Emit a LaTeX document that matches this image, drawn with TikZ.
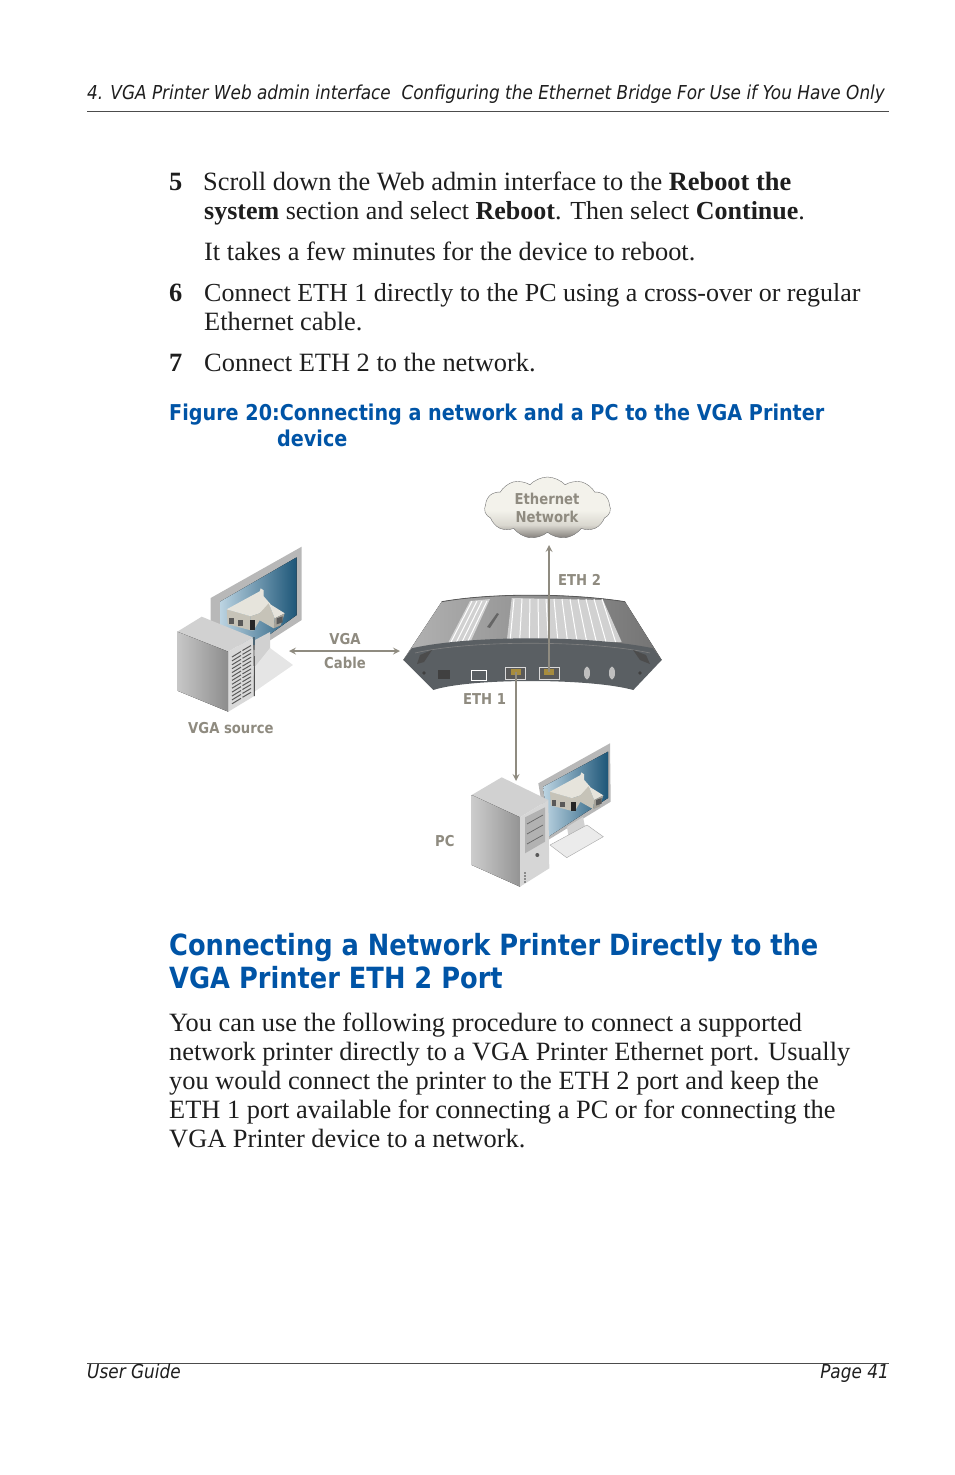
\documentclass[tikz,border=0pt]{standalone}
\usepackage{fontspec}
\setmainfont{Liberation Serif}
\newfontfamily\headfont[FakeStretch=0.88]{DejaVu Sans}
\usetikzlibrary{arrows, shapes, shapes.symbols, positioning}
\definecolor{capblue}{HTML}{0054A6}
\definecolor{cablegray}{HTML}{8F8B80}
\definecolor{bandgray}{HTML}{5A5F63}
\definecolor{screendark}{HTML}{1D5678}
\definecolor{screenlight}{HTML}{BCD4E2}
\definecolor{inktext}{HTML}{1E1E1E}
\definecolor{cloudtop}{HTML}{F3F2EB}
\definecolor{cloudmid}{HTML}{DAD8D0}
\definecolor{cloudfoot}{HTML}{807C78}
\definecolor{roofpale}{HTML}{E6E4DC}
\definecolor{wallpale}{HTML}{C6C3B8}
\definecolor{wallshade}{HTML}{A5A299}
\pgfdeclareverticalshading{cloudshade}{100bp}{color(0bp)=(cloudfoot); color(25bp)=(cloudfoot); color(36bp)=(cloudmid); color(48bp)=(cloudtop); color(100bp)=(cloudtop)}
\tikzset{
  bodyline/.style={anchor=base west, inner sep=0, text=inktext, font=\fontsize{26.4}{30}\selectfont},
  tightline/.style={anchor=base west, inner sep=0, text=inktext, font=\fontsize{26}{30}\selectfont},
  runline/.style={anchor=base west, inner sep=0, text=inktext, font=\headfont\itshape\fontsize{19.2}{24}\selectfont},
  capline/.style={anchor=base west, inner sep=0, text=capblue, font=\headfont\bfseries\fontsize{21.8}{26}\selectfont},
  headline/.style={anchor=base west, inner sep=0, text=capblue, font=\headfont\bfseries\fontsize{29.2}{34}\selectfont},
  cablelabel/.style={anchor=base west, inner sep=0, text=cablegray, font=\headfont\bfseries\fontsize{15}{18}\selectfont},
  cableline/.style={draw=cablegray, line width=2pt, >=stealth},
  rulerline/.style={draw=black!70, line width=0.7pt}
}
\newcommand{\drawhouse}[3]{
\begin{scope}[shift={(#1,#2)}, scale=#3]
\fill[wallpale] (0,0) -- (24,7) -- (24,21) -- (1,15) -- cycle;
\fill[roofpale] (0,0) -- (33,-18) -- (34,-21) -- (37,-19) -- (37,-13) -- (44,-5) -- (33,4) -- (24,7) -- cycle;
\fill[wallpale] (24,7) -- (33,4) -- (42,-6) -- (48,9) -- (47,19) -- (33,11) -- (27,21) -- (24,21) -- cycle;
\fill[roofpale] (42,-6) -- (58,4) -- (48,9) -- cycle;
\fill[wallshade] (48,9) -- (58,4) -- (54,16) -- (47,19) -- cycle;
\fill[black!65] (2,9) rectangle (7,15);
\fill[black!65] (11,11) rectangle (16,17);
\fill[black!85] (23,11) rectangle (28,21);
\fill[black!65] (50,9) -- (56,7) -- (56,13) -- (50,15) -- cycle;
\end{scope}
}
\begin{document}
\begin{tikzpicture}[x=1pt, y=-1pt]
\useasboundingbox (0,0) rectangle (954,1475);

% page head and foot
\node[runline] (running) at (87,99) {4. VGA Printer Web admin interface\ \ Configuring the Ethernet Bridge For Use if You Have Only};
\coordinate (headl) at (87,111);
\coordinate (headr) at (889,111);
\draw[rulerline] (headl) -- (headr);
\coordinate (footl) at (87,1363);
\coordinate (footr) at (889,1363);
\draw[rulerline] (footl) -- (footr);
\node[runline] (guide) at (87,1378) {User Guide};
\node[runline, anchor=base east] (pagenum) at (889,1378) {Page 41};

% steps
\node[bodyline] (numfive) at (169,190) {\textbf{5}};
\node[bodyline] (stepa) at (203,190) {Scroll down the Web admin interface to the \textbf{Reboot the}};
\node[tightline] (stepb) at (204,219) {\textbf{system} section and select \textbf{Reboot}. Then select \textbf{Continue}.};
\node[bodyline] (stepc) at (204,260) {It takes a few minutes for the device to reboot.};
\node[bodyline] (numsix) at (169,301) {\textbf{6}};
\node[tightline] (stepd) at (204,301) {Connect ETH 1 directly to the PC using a cross-over or regular};
\node[bodyline] (stepe) at (204,330) {Ethernet cable.};
\node[bodyline] (numseven) at (169,371) {\textbf{7}};
\node[bodyline] (stepf) at (204,371) {Connect ETH 2 to the network.};

% caption
\node[capline] (capa) at (169,420) {Figure 20:Connecting a network and a PC to the VGA Printer};
\node[capline] (capb) at (277,446) {device};

% VGA source monitor
\fill[white!72!black] (210.7,598) -- (301.7,546.7) -- (301.7,620) -- (255,650) -- (210.7,640) -- cycle;
\fill[left color=screenlight, right color=screendark] (220,601.7) -- (296.7,557.3) -- (296.7,615) -- (255,645) -- (220,640) -- cycle;
\fill[white!82!black] (255,640) -- (270,632) -- (270,660) -- (255,670) -- cycle;
\fill[white!90!black] (270,648) -- (293,665) -- (254,692) -- (254,668) -- cycle;
\drawhouse{226.7}{609.3}{1}

% VGA source tower
\fill[white!82!black] (177.3,631.7) -- (201.7,616.7) -- (252.7,637.3) -- (228.3,651.7) -- cycle;
\fill[left color=white!78!black, right color=white!55!black] (177.3,631.7) -- (228.3,651.7) -- (228.3,711.7) -- (177.3,690.7) -- cycle;
\fill[white!85!black] (228.3,651.7) -- (252.7,637.3) -- (254.3,696) -- (228.3,711.7) -- cycle;
\foreach \i in {0,...,12}
  \draw[black!65, line width=1pt] (232,{657+\i*3.9}) -- (241,{651.5+\i*3.9}) (242.5,{650.5+\i*3.9}) -- (251,{645.5+\i*3.9});
\draw[black, line width=0.8pt] (254,637) -- (254.3,696);

% PC monitor
\fill[white!72!black] (538.3,783.3) -- (610,743.3) -- (610.7,801.7) -- (548,840) -- cycle;
\fill[left color=screenlight, right color=screendark] (543.3,786.7) -- (608,751.7) -- (608,798) -- (548.3,836.7) -- cycle;
\fill[white!82!black] (567,827) -- (583,817) -- (586,832) -- (570,846) -- cycle;
\draw[black!35, line width=0.4pt, fill=white!92!black] (550,845) -- (587,825) -- (603.3,836.7) -- (566.7,857.7) -- cycle;
\drawhouse{550}{791.7}{0.92}

% PC tower
\fill[white!82!black] (471.7,795) -- (501.7,777.3) -- (548.3,800) -- (520,817.3) -- cycle;
\fill[left color=white!80!black, right color=white!58!black] (471.7,795) -- (520,817.3) -- (520,886.7) -- (471.7,865) -- cycle;
\fill[white!84!black] (520,817.3) -- (548.3,800) -- (549.3,868.3) -- (520,886.7) -- cycle;
\fill[white!70!black] (525,817.3) -- (545,807.3) -- (545,841.7) -- (525,853.3) -- cycle;
\foreach \i in {0,1,2}
  \draw[black!60, line width=0.7pt] (527,{824+\i*10}) -- (543,{815+\i*10});
\fill[white!35!black] (537.3,855) circle (2pt);
\foreach \i in {0,1,2,3}
  \fill[black!75] (525,{873+\i*3}) circle (0.8pt);

% router
\fill[left color=white!70!black, right color=white!45!black] (441.7,601.7) .. controls (490,593) and (570,593) .. (625,601.7) -- (661.7,660) -- (403.3,660) -- cycle;
\draw[black!65, line width=0.8pt] (441.7,601.7) .. controls (490,593) and (570,593) .. (625,601.7);
\fill[white!82!black] (470,601) -- (490,599) -- (470,643) -- (447,645) -- cycle;
\fill[white!82!black] (511.7,598) -- (603,600) -- (621.7,642) -- (506.7,641.7) -- cycle;
\foreach \i in {0,1,2,3}
  \draw[white, line width=1pt] ({472+\i*5},601) -- ({450+\i*5.5},644);
\foreach \i in {0,...,11}
  \draw[white, line width=1pt] ({514+\i*8},599) -- ({510+\i*9.6},642);
\fill[black!60] (487,627) -- (497,613) -- (499,614) -- (490,628) -- cycle;
\fill[bandgray] (411.7,648.3) .. controls (470,635) and (590,635) .. (653,648.3) -- (661.7,660) -- (633.3,690) .. controls (590,678) and (470,678) .. (433.3,690) -- (403.3,660) -- cycle;
\draw[black!50, line width=0.6pt] (415,653) .. controls (470,640) and (590,640) .. (650,653);
\fill[white!30!black] (420,655) -- (432,650) -- (424,662) -- (417,664) -- cycle;
\fill[white!30!black] (633,650) -- (646,655) -- (650,664) -- (640,660) -- cycle;
\fill[black!75] (424,673) circle (1.8pt);
\fill[black!75] (640,673) circle (1.8pt);
\fill[black!75] (438,670) rectangle (450,679);
\draw[white, line width=0.9pt, fill=bandgray] (471,670) rectangle (486,680);
\draw[white!85!black, line width=0.8pt, fill=white!35!black] (505.5,667.5) rectangle (525.5,679);
\draw[white!85!black, line width=0.8pt, fill=white!35!black] (539.5,667.5) rectangle (559.5,679);
\fill[yellow!45!black!70!orange] (511,669) rectangle (521,675);
\fill[yellow!45!black!70!orange] (544,669) rectangle (554,675);
\fill[white!75!black] (587,673) ellipse (3pt and 6.5pt);
\fill[white!75!black] (612,673) ellipse (3pt and 6.5pt);

% network cloud
\node[cloud, cloud puffs=11, cloud puff arc=95, aspect=2.1, minimum width=126pt, minimum height=62pt, inner sep=0,
  draw=black!55, line width=0.4pt, shading=cloudshade] (netcloud) at (547.5,508) {};
\node[cablelabel, anchor=base] (neta) at (547,504) {Ethernet};
\node[cablelabel, anchor=base] (netb) at (547,522) {Network};

% connectors
\coordinate (vgasrc) at (289,651);
\coordinate (vgadev) at (400,651);
\coordinate (portone) at (516,672);
\coordinate (pctop) at (516,781);
\coordinate (porttwo) at (549,672);
\coordinate (netfoot) at (549,545);
\draw[cableline, <->] (vgasrc) -- (vgadev);
\draw[cableline, ->] (portone) -- (pctop);
\draw[cableline, ->] (porttwo) -- (netfoot);

% labels
\node[cablelabel, anchor=base] (vgalab) at (345,644) {VGA};
\node[cablelabel, anchor=base] (cablelab) at (345,668) {Cable};
\node[cablelabel] (srclab) at (188,733) {VGA source};
\node[cablelabel] (ethtwolab) at (558,585) {ETH 2};
\node[cablelabel] (ethonelab) at (463,704) {ETH 1};
\node[cablelabel] (pclab) at (435,846) {PC};

% section
\node[headline] (heada) at (169,955) {Connecting a Network Printer Directly to the};
\node[headline] (headb) at (169,988) {VGA Printer ETH 2 Port};
\node[bodyline] (paraa) at (169,1031) {You can use the following procedure to connect a supported};
\node[bodyline] (parab) at (169,1060) {network printer directly to a VGA Printer Ethernet port. Usually};
\node[bodyline] (parac) at (169,1089) {you would connect the printer to the ETH 2 port and keep the};
\node[bodyline] (parad) at (169,1118) {ETH 1 port available for connecting a PC or for connecting the};
\node[bodyline] (parae) at (169,1147) {VGA Printer device to a network.};
\end{tikzpicture}
\end{document}
